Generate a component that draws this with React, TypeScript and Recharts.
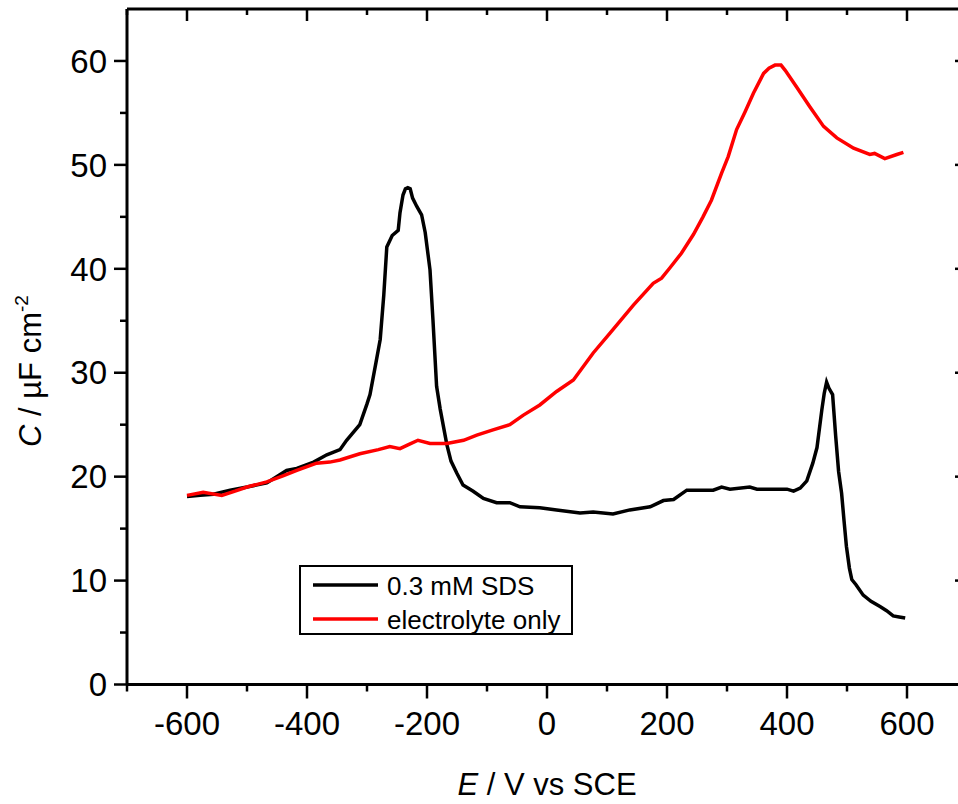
import { Legend, Line, LineChart, XAxis, YAxis } from "recharts";

// 0.3 mM SDS (black)
const sdsE = [
  -600, -578, -556, -528, -500, -467, -434, -417, -389, -367, -345, -334, -312, -300, -295, -285,
  -278, -272, -267, -258, -248, -245, -240, -236, -232, -228, -224, -217, -209, -203, -195, -190,
  -184, -178, -167, -160, -150, -140, -123, -106, -84, -62, -45, -12, 16, 55, 77, 110, 138, 172,
  194, 211, 233, 277, 291, 305, 338, 350, 400, 411, 422, 433, 443, 450, 458, 462, 466, 470, 476,
  481, 486, 491, 495, 499, 504, 508, 515, 527, 540, 555, 566, 577, 587, 597,
];
const sdsC = [
  18.1, 18.2, 18.3, 18.7, 19.0, 19.4, 20.6, 20.8, 21.4, 22.1, 22.6, 23.5, 25.0, 27.0, 27.9, 31.0,
  33.2, 37.5, 42.1, 43.2, 43.7, 45.4, 47.1, 47.7, 47.8, 47.7, 46.8, 46.0, 45.2, 43.5, 39.9, 35.0,
  28.7, 26.5, 23.1, 21.5, 20.3, 19.2, 18.6, 17.9, 17.5, 17.5, 17.1, 17.0, 16.8, 16.5, 16.6, 16.4,
  16.8, 17.1, 17.7, 17.8, 18.7, 18.7, 19.0, 18.8, 19.0, 18.8, 18.8, 18.6, 18.9, 19.6, 21.3, 22.8,
  26.4, 28.0, 29.1, 28.5, 27.9, 24.0, 20.5, 18.4, 15.8, 13.3, 11.2, 10.1, 9.6, 8.6, 8.0, 7.5, 7.1,
  6.6, 6.5, 6.4,
];

// electrolyte only (red)
const elecE = [
  -600, -573, -542, -520, -500, -467, -439, -417, -384, -362, -345, -312, -281, -262, -245, -230,
  -215, -195, -167, -139, -117, -90, -62, -40, -12, 16, 44, 77, 105, 144, 177, 191, 205, 224, 244,
  260, 274, 291, 302, 316, 330, 344, 361, 370, 380, 390, 397, 416, 438, 461, 483, 511, 538, 546,
  563, 583, 594,
];
const elecC = [
  18.2, 18.5, 18.2, 18.6, 19.0, 19.5, 20.1, 20.6, 21.3, 21.4, 21.6, 22.2, 22.6, 22.9, 22.7, 23.1,
  23.5, 23.2, 23.2, 23.5, 24.0, 24.5, 25.0, 25.9, 26.9, 28.2, 29.3, 31.9, 33.8, 36.5, 38.6, 39.1,
  40.1, 41.5, 43.3, 45.0, 46.6, 49.2, 50.8, 53.4, 55.1, 56.9, 58.8, 59.3, 59.6, 59.6, 59.1, 57.5,
  55.6, 53.7, 52.6, 51.6, 51.0, 51.1, 50.6, 51.0, 51.2,
];

const xTicks = [-700, -600, -500, -400, -300, -200, -100, 0, 100, 200, 300, 400, 500, 600];
const xLabels = [-600, -400, -200, 0, 200, 400, 600];
const yTicks = [0, 5, 10, 15, 20, 25, 30, 35, 40, 45, 50, 55, 60];
const yLabels = [0, 10, 20, 30, 40, 50, 60];

const sds = sdsE.map((e, i) => ({ e, c: sdsC[i] }));
const elec = elecE.map((e, i) => ({ e, c: elecC[i] }));

const FONT = "'Liberation Sans', Arial, Helvetica, sans-serif";
const W = 968;
const H = 804;
const PLOT_LEFT = 127;
const PLOT_BOTTOM = 684.5;

function BottomTick({ x, y, payload }: any) {
  const major = xLabels.includes(payload.value);
  return (
    <g>
      <line x1={x} y1={y} x2={x} y2={y + (major ? 14 : 7)} stroke="#000" strokeWidth={2.5} />
      {major && (
        <text x={x} y={y + 50.5} textAnchor="middle" fontSize={33} fontFamily={FONT} fill="#000">
          {payload.value}
        </text>
      )}
    </g>
  );
}

function TopTick({ x, y, payload }: any) {
  const major = xLabels.includes(payload.value);
  return <line x1={x} y1={y} x2={x} y2={y + (major ? 12 : 6)} stroke="#000" strokeWidth={2.5} />;
}

function LeftTick({ x, y, payload }: any) {
  const major = yLabels.includes(payload.value);
  return (
    <g>
      <line x1={x - (major ? 13 : 7)} y1={y} x2={x} y2={y} stroke="#000" strokeWidth={2.5} />
      {major && (
        <text x={x - 20} y={y + 11.7} textAnchor="end" fontSize={33} fontFamily={FONT} fill="#000">
          {payload.value}
        </text>
      )}
    </g>
  );
}

function RightTick({ x, y, payload }: any) {
  const major = yLabels.includes(payload.value);
  return <line x1={x - (major ? 12 : 6)} y1={y} x2={x} y2={y} stroke="#000" strokeWidth={2.5} />;
}

function LegendBox({ payload }: any) {
  return (
    <div
      style={{
        border: "2px solid #000",
        background: "#fff",
        width: 270,
        height: 65,
        paddingTop: 1,
        fontFamily: FONT,
        fontSize: 26,
        color: "#000",
      }}
    >
      {(payload || []).map((p: any) => (
        <div key={p.value} style={{ display: "flex", alignItems: "center", height: 34 }}>
          <svg width={86} height={34} style={{ flex: "none" }}>
            <line x1={12} y1={17} x2={77} y2={17} stroke={p.color} strokeWidth={3.5} />
          </svg>
          <span style={{ whiteSpace: "nowrap", lineHeight: "34px", position: "relative", top: 1 }}>
            {p.value}
          </span>
        </div>
      ))}
    </div>
  );
}

export default function App() {
  return (
    <div style={{ position: "absolute", left: 0, top: 0, width: 958, height: 804, overflow: "hidden", background: "#fff" }}>
      <LineChart width={W} height={H} margin={{ top: 8, right: 0, bottom: 0, left: 0 }}>
        <XAxis
          xAxisId="b"
          dataKey="e"
          type="number"
          domain={[-700, 700]}
          ticks={xTicks}
          interval={0}
          tickSize={0}
          tickMargin={0}
          tickLine={false}
          tick={<BottomTick />}
          axisLine={{ stroke: "#000", strokeWidth: 3 }}
          height={H - PLOT_BOTTOM}
          label={{
            content: () => (
              <text x={(PLOT_LEFT + W - 1) / 2} y={PLOT_BOTTOM + 110.5} textAnchor="middle" fontSize={31} fontFamily={FONT} fill="#000">
                <tspan fontStyle="italic">E</tspan> / V vs SCE
              </text>
            ),
          }}
        />
        <XAxis
          xAxisId="t"
          dataKey="e"
          orientation="top"
          type="number"
          domain={[-700, 700]}
          ticks={xTicks}
          interval={0}
          tickSize={0}
          tickMargin={0}
          tickLine={false}
          tick={<TopTick />}
          axisLine={{ stroke: "#000", strokeWidth: 3 }}
          height={1}
        />
        <YAxis
          yAxisId="l"
          type="number"
          domain={[0, 65]}
          ticks={yTicks}
          interval={0}
          tickSize={0}
          tickMargin={0}
          tickLine={false}
          tick={<LeftTick />}
          axisLine={{ stroke: "#000", strokeWidth: 3 }}
          width={PLOT_LEFT}
          label={{
            content: () => (
              <text transform={`translate(41, 447) rotate(-90)`} textAnchor="start" fontSize={31} fontFamily={FONT} fill="#000">
                <tspan fontStyle="italic">C</tspan> / µF cm
                <tspan fontSize={19} dy={-13}>-2</tspan>
              </text>
            ),
          }}
        />
        <YAxis
          yAxisId="r"
          orientation="right"
          type="number"
          domain={[0, 65]}
          ticks={yTicks}
          interval={0}
          tickSize={0}
          tickMargin={0}
          tickLine={false}
          tick={<RightTick />}
          axisLine={{ stroke: "#000", strokeWidth: 3 }}
          width={1}
        />
        <Legend
          layout="horizontal"
          verticalAlign="middle"
          align="center"
          content={<LegendBox />}
          wrapperStyle={{ left: 299, top: 565, width: 274, height: 70 }}
        />
        <Line
          xAxisId="b"
          yAxisId="l"
          data={sds}
          dataKey="c"
          name="0.3 mM SDS"
          type="linear"
          stroke="#000000"
          strokeWidth={3.5}
          dot={false}
          activeDot={false}
          isAnimationActive={false}
        />
        <Line
          xAxisId="t"
          yAxisId="r"
          data={elec}
          dataKey="c"
          name="electrolyte only"
          type="linear"
          stroke="#ff0000"
          strokeWidth={3.5}
          dot={false}
          activeDot={false}
          isAnimationActive={false}
        />
      </LineChart>
    </div>
  );
}
